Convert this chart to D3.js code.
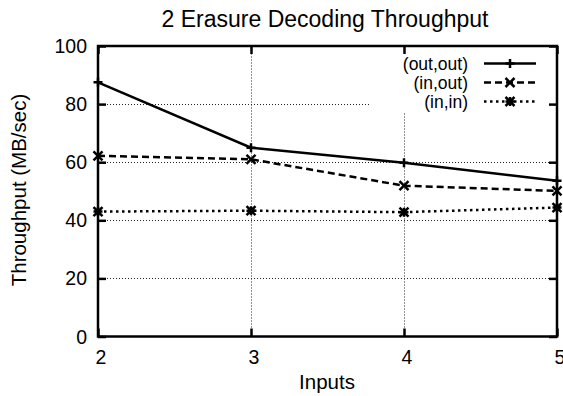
<!DOCTYPE html>
<html>
<head>
<meta charset="utf-8">
<script src="https://cdn.jsdelivr.net/npm/d3@7"></script>
<style>
  html, body { margin: 0; padding: 0; background: #fff; }
  text { font-family: "Liberation Sans", Arial, Helvetica, sans-serif; fill: #000; }
</style>
</head>
<body>
<svg id="chart" width="563" height="396"></svg>
<script>
const inputs = [2, 3, 4, 5];
const outOut = [87.5, 65.0, 59.8, 53.6];
const inOut  = [62.2, 61.0, 51.9, 50.1];
const inIn   = [43.0, 43.3, 42.8, 44.4];
const seriesNames = ["(out,out)", "(in,out)", "(in,in)"];
const yTicks = [0, 20, 40, 60, 80, 100];
const xTicks = [2, 3, 4, 5];
const titleText = "2 Erasure Decoding Throughput";
const xLabel = "Inputs";
const yLabel = "Throughput (MB/sec)";

const series = [
  { name: seriesNames[0], values: outOut, dash: null, marker: "plus" },
  { name: seriesNames[1], values: inOut, dash: "7,4", marker: "cross" },
  { name: seriesNames[2], values: inIn, dash: "2.5,3.5", marker: "star" }
];

const svg = d3.select("#chart");
const m = { left: 98, right: 557, top: 46, bottom: 336.5 };
const x = d3.scaleLinear().domain([2, 5]).range([m.left, m.right]);
const y = d3.scaleLinear().domain([0, 100]).range([m.bottom, m.top]);

// grid
const grid = svg.append("g").attr("stroke", "#222").attr("stroke-width", 1).attr("stroke-dasharray", "1,2");
yTicks.filter(d => d > 0 && d < 100).forEach(d => {
  grid.append("line").attr("x1", x(2)).attr("x2", x(5)).attr("y1", Math.round(y(d)) + 0.5).attr("y2", Math.round(y(d)) + 0.5);
});
xTicks.filter(d => d > 2 && d < 5).forEach(d => {
  grid.append("line").attr("x1", Math.round(x(d)) + 0.5).attr("x2", Math.round(x(d)) + 0.5).attr("y1", y(0)).attr("y2", y(100));
});

// legend box mask (gnuplot clears grid behind key)
const keyBox = { x0: 370, x1: m.right, y0: m.top, y1: 112 };
svg.append("rect").attr("x", keyBox.x0).attr("y", keyBox.y0)
  .attr("width", keyBox.x1 - keyBox.x0).attr("height", keyBox.y1 - keyBox.y0).attr("fill", "#fff");

// axes with inward ticks
const tickLen = 8;
const axL = svg.append("g").attr("transform", `translate(${m.left},0)`)
  .call(d3.axisRight(y).tickValues(yTicks).tickSize(tickLen).tickFormat(""));
const axR = svg.append("g").attr("transform", `translate(${m.right},0)`)
  .call(d3.axisLeft(y).tickValues(yTicks).tickSize(tickLen).tickFormat(""));
const axB = svg.append("g").attr("transform", `translate(0,${m.bottom})`)
  .call(d3.axisTop(x).tickValues(xTicks).tickSize(tickLen).tickFormat(""));
const axT = svg.append("g").attr("transform", `translate(0,${m.top})`)
  .call(d3.axisBottom(x).tickValues(xTicks).tickSize(tickLen).tickFormat(""));
[axL, axR, axB, axT].forEach(a => {
  a.select(".domain").remove();
  a.selectAll(".tick line").attr("stroke", "#000").attr("stroke-width", 2.5);
});

// tick labels
svg.append("g").selectAll("text").data(yTicks).join("text")
  .attr("x", 87).attr("y", d => y(d)).attr("dy", "0.36em")
  .attr("text-anchor", "end").attr("font-size", 19.5).text(d => d);
svg.append("g").selectAll("text").data(xTicks).join("text")
  .attr("x", d => x(d) + 3).attr("y", 364)
  .attr("text-anchor", "middle").attr("font-size", 19.5).text(d => d);

// frame
svg.append("rect").attr("x", m.left).attr("y", m.top)
  .attr("width", m.right - m.left).attr("height", m.bottom - m.top)
  .attr("fill", "none").attr("stroke", "#000").attr("stroke-width", 2.5);

// markers
function drawMarker(g, type, cx, cy) {
  const s = 4.5;
  const p = d3.path();
  if (type === "plus" || type === "star") {
    p.moveTo(cx - s, cy); p.lineTo(cx + s, cy);
    p.moveTo(cx, cy - s); p.lineTo(cx, cy + s);
  }
  if (type === "cross" || type === "star") {
    p.moveTo(cx - s, cy - s); p.lineTo(cx + s, cy + s);
    p.moveTo(cx - s, cy + s); p.lineTo(cx + s, cy - s);
  }
  g.append("path").attr("d", p.toString()).attr("stroke", "#000")
    .attr("stroke-width", 2.5).attr("fill", "none");
}

const line = d3.line().x((d, i) => x(inputs[i])).y(d => y(d));
series.forEach(s => {
  const g = svg.append("g");
  g.append("path").attr("d", line(s.values)).attr("fill", "none")
    .attr("stroke", "#000").attr("stroke-width", 2.5)
    .attr("stroke-dasharray", s.dash);
  s.values.forEach((v, i) => drawMarker(g, s.marker, x(inputs[i]), y(v)));
});

// legend
const legendRows = [63.5, 82.5, 101.5];
series.forEach((s, i) => {
  const ly = legendRows[i];
  svg.append("text").attr("x", 468).attr("y", ly).attr("dy", "0.36em")
    .attr("text-anchor", "end").attr("font-size", 17.5).text(s.name);
  const g = svg.append("g");
  g.append("line").attr("x1", 484).attr("x2", 536).attr("y1", ly).attr("y2", ly)
    .attr("stroke", "#000").attr("stroke-width", 2.5).attr("stroke-dasharray", s.dash);
  drawMarker(g, s.marker, 510, ly);
});

// titles
svg.append("text").attr("x", 325).attr("y", 27).attr("text-anchor", "middle")
  .attr("font-size", 23).text(titleText);
svg.append("text").attr("x", 327).attr("y", 389).attr("text-anchor", "middle")
  .attr("font-size", 20.5).text(xLabel);
svg.append("text").attr("transform", "translate(26,190) rotate(-90)")
  .attr("text-anchor", "middle").attr("font-size", 20.5).text(yLabel);
</script>
</body>
</html>
